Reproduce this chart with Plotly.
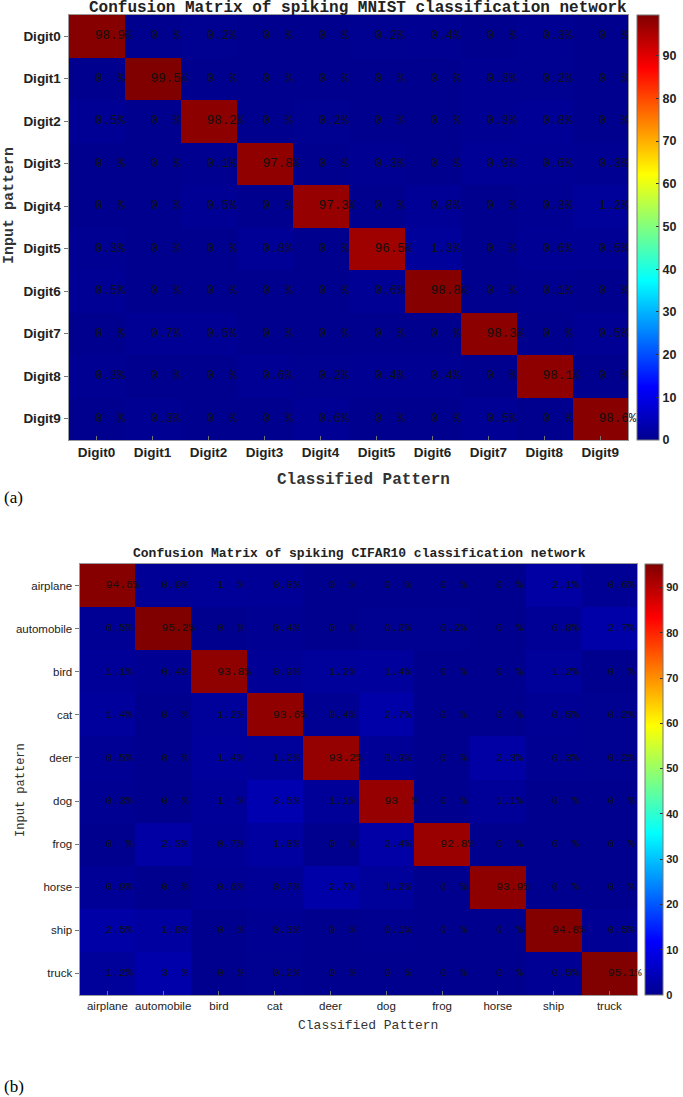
import plotly.graph_objects as go

W, H = 683, 1097

# ---------------- data ----------------
mnist_labels = ["Digit0", "Digit1", "Digit2", "Digit3", "Digit4",
                "Digit5", "Digit6", "Digit7", "Digit8", "Digit9"]
mnist_values = [
    [98.9, 0, 0.2, 0, 0, 0.2, 0.4, 0, 0.3, 0],
    [0, 99.5, 0, 0, 0, 0, 0, 0.3, 0.2, 0],
    [0.5, 0, 98.2, 0, 0.2, 0, 0, 0.3, 0.8, 0],
    [0, 0, 0.1, 97.8, 0, 0.3, 0, 0.9, 0.6, 0.3],
    [0, 0, 0.5, 0, 97.3, 0, 0.8, 0, 0.3, 1.2],
    [0.3, 0, 0, 0.8, 0, 96.5, 1.3, 0, 0.6, 0.5],
    [0.5, 0, 0, 0, 0, 0.6, 98.8, 0, 0.1, 0],
    [0, 0.7, 0.5, 0, 0, 0, 0, 98.3, 0, 0.5],
    [0.3, 0, 0, 0.6, 0.2, 0.4, 0.4, 0, 98.1, 0],
    [0, 0.3, 0, 0, 0.6, 0, 0, 0.5, 0, 98.6],
]

cifar_labels = ["airplane", "automobile", "bird", "cat", "deer",
                "dog", "frog", "horse", "ship", "truck"]
cifar_values = [
    [94.6, 0.9, 1, 0.8, 0, 0, 0, 0, 2.1, 0.6],
    [0.5, 95.2, 0, 0.4, 0, 0.2, 0.2, 0, 0.8, 2.7],
    [1.1, 0.4, 93.8, 0.9, 1.2, 1.4, 0, 0, 1.2, 0],
    [1.4, 0, 1.2, 93.6, 0.4, 2.7, 0, 0, 0.5, 0.2],
    [0.5, 0, 1.4, 1.2, 93.2, 0.9, 0, 2.3, 0.3, 0.2],
    [0.3, 0, 1, 3.5, 1.1, 93, 0, 1.1, 0, 0],
    [0, 2.3, 0.7, 1.8, 0, 2.4, 92.8, 0, 0, 0],
    [0.9, 0, 0.6, 0.7, 2.7, 1.2, 0, 93.9, 0, 0],
    [2.5, 1.8, 0, 0.3, 0, 0.1, 0, 0, 94.8, 0.5],
    [1.2, 3, 0, 0.2, 0, 0, 0, 0, 0.5, 95.1],
]

cbar_ticks = [0, 10, 20, 30, 40, 50, 60, 70, 80, 90]

# ---------------- style ----------------
jet = [
    [0.0, "rgb(0,0,143)"],
    [0.125, "rgb(0,0,255)"],
    [0.375, "rgb(0,255,255)"],
    [0.625, "rgb(255,255,0)"],
    [0.875, "rgb(255,0,0)"],
    [1.0, "rgb(128,0,0)"],
]

MONO = "Liberation Mono, Courier New, monospace"
SANS = "Liberation Sans, Arial, sans-serif"
SERIF = "Liberation Serif, Times New Roman, serif"


def fmt(v):
    if float(v).is_integer():
        return f"{int(v)}  %"
    return f"{v:.1f}%"


def px_x(a, b):
    return [a / W, b / W]


def px_y(top, bottom):
    return [1 - bottom / H, 1 - top / H]


panels = [
    dict(labels=mnist_labels, values=mnist_values,
         hx=(69, 632), hy=(15, 440), cb=(641, 22),
         title="Confusion Matrix of spiking MNIST classification network",
         title_size=16, title_x=360, title_y=8,
         tick_font=dict(family=SANS, size=13.5, color="#222"),
         tick_bold=True, cell_size=12.5, axtitle_size=16, ytitle_x=9, ytitle_y=205,
         xtitle_x=366, xtitle_y=480, tag="(a)", tag_y=497, cb_font=12.5),
    dict(labels=cifar_labels, values=cifar_values,
         hx=(80, 641), hy=(564, 995), cb=(649, 18),
         title="Confusion Matrix of spiking CIFAR10 classification network",
         title_size=13, title_x=362, title_y=553,
         tick_font=dict(family=SANS, size=11.5, color="#222"),
         tick_bold=False, cell_size=11.3, axtitle_size=13, ytitle_x=21, ytitle_y=790,
         xtitle_x=370, xtitle_y=1025, tag="(b)", tag_y=1086, cb_font=11),
]

fig = go.Figure()
annotations = []
layout_axes = {}

for i, p in enumerate(panels):
    n = len(p["labels"])
    idx = list(range(n))
    xa = "x" if i == 0 else "x2"
    ya = "y" if i == 0 else "y2"
    xkey = "xaxis" if i == 0 else "xaxis2"
    ykey = "yaxis" if i == 0 else "yaxis2"
    zmax = max(max(r) for r in p["values"])
    hx0, hx1 = p["hx"]
    hy0, hy1 = p["hy"]
    cbx, cbw = p["cb"]

    fig.add_trace(go.Heatmap(
        z=p["values"], x=idx, y=idx, xaxis=xa, yaxis=ya,
        colorscale=jet, zmin=0, zmax=zmax, hoverinfo="skip",
        colorbar=dict(
            x=cbx / W, xanchor="left", xref="paper",
            y=1 - hy0 / H, yanchor="top", yref="paper",
            len=hy1 - hy0, lenmode="pixels",
            thickness=cbw, thicknessmode="pixels",
            outlinecolor="#777", outlinewidth=1,
            tickvals=cbar_ticks, ticks="inside", ticklen=3, tickcolor="#333",
            tickfont=dict(family=SANS, size=p["cb_font"], color="#222",
                          weight="bold"),
            ypad=0, xpad=0,
        ),
    ))

    tx, ty, tt = [], [], []
    for r in idx:
        for c in idx:
            tx.append(c - 0.03)
            ty.append(r)
            tt.append(fmt(p["values"][r][c]))
    fig.add_trace(go.Scatter(
        x=tx, y=ty, text=tt, mode="text", xaxis=xa, yaxis=ya,
        textposition="middle right", cliponaxis=False, hoverinfo="skip",
        textfont=dict(family=MONO, size=p["cell_size"], color="#111"),
        showlegend=False,
    ))

    tf = dict(p["tick_font"])
    if p["tick_bold"]:
        tf["weight"] = "bold"
    layout_axes[xkey] = dict(
        domain=px_x(hx0, hx1), anchor=ya, range=[-0.5, n - 0.5],
        tickvals=idx, ticktext=p["labels"], tickfont=tf,
        ticks="inside", ticklen=4, tickcolor="#777",
        showline=True, linecolor="#999", linewidth=1, mirror=True,
        showgrid=False, zeroline=False, fixedrange=True,
    )
    layout_axes[ykey] = dict(
        domain=px_y(hy0, hy1), anchor=xa, range=[n - 0.5, -0.5],
        tickvals=idx, ticktext=p["labels"], tickfont=tf,
        ticks="outside", ticklen=4, tickcolor="#777",
        showline=True, linecolor="#999", linewidth=1, mirror=True,
        showgrid=False, zeroline=False, fixedrange=True,
    )

    annotations.append(dict(
        text=p["title"], x=p["title_x"] / W, y=1 - p["title_y"] / H,
        xref="paper", yref="paper", showarrow=False,
        xanchor="center", yanchor="middle",
        font=dict(family=MONO, size=p["title_size"], color="#222", weight="bold"),
    ))
    annotations.append(dict(
        text="Classified Pattern", x=p["xtitle_x"] / W, y=1 - p["xtitle_y"] / H,
        xref="paper", yref="paper", showarrow=False,
        xanchor="center", yanchor="middle",
        font=dict(family=MONO, size=p["axtitle_size"], color="#333",
                  weight="bold" if i == 0 else "normal"),
    ))
    annotations.append(dict(
        text="Input pattern", x=p["ytitle_x"] / W, y=1 - p["ytitle_y"] / H,
        xref="paper", yref="paper", showarrow=False, textangle=-90,
        xanchor="center", yanchor="middle",
        font=dict(family=MONO, size=p["axtitle_size"] - 1, color="#333",
                  weight="bold" if i == 0 else "normal"),
    ))
    annotations.append(dict(
        text=p["tag"], x=2 / W, y=1 - p["tag_y"] / H,
        xref="paper", yref="paper", showarrow=False,
        xanchor="left", yanchor="middle",
        font=dict(family=SERIF, size=17, color="#000"),
    ))

fig.update_layout(
    width=W, height=H, margin=dict(l=0, r=0, t=0, b=0),
    paper_bgcolor="white", plot_bgcolor="white",
    showlegend=False, annotations=annotations, **layout_axes,
)

fig.write_html("out.html", config={"displayModeBar": False})
